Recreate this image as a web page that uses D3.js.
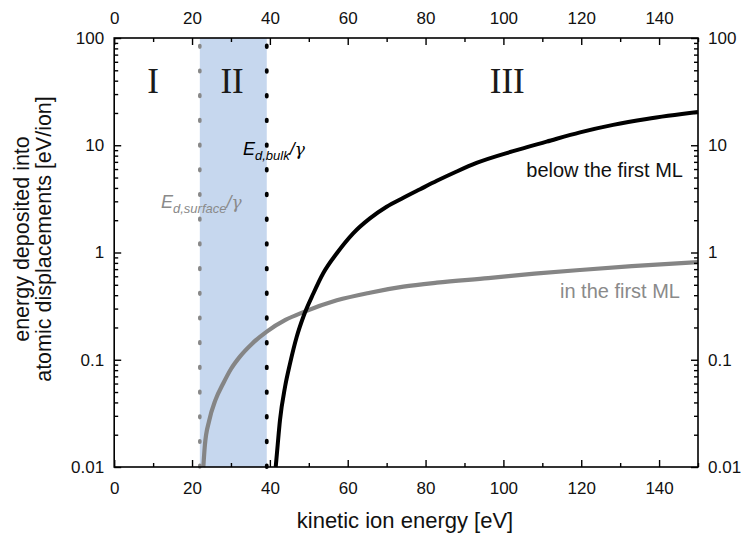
<!DOCTYPE html>
<html>
<head>
<meta charset="utf-8">
<script src="https://cdn.jsdelivr.net/npm/d3@7"></script>
<style>
  html, body { margin: 0; padding: 0; background: #fff; }
  svg { display: block; font-family: Arial, "Liberation Sans", sans-serif; }
</style>
</head>
<body>
<svg id="chart" width="741" height="535"></svg>
<script>
// Energy deposited into atomic displacements vs. kinetic ion energy
const belowEnergy = [41.5, 42.0, 42.6, 43.9, 45.2, 46.9, 48.6, 51.2, 53.7, 57.2, 61.4, 65.7, 70.0, 74.3, 78.6, 82.9, 88.0, 93.1, 102.5, 111.1, 119.7, 128.2, 136.8, 150.0];
const belowValue  = [0.01, 0.016, 0.0274, 0.056, 0.093, 0.164, 0.252, 0.417, 0.64, 0.984, 1.51, 2.08, 2.67, 3.24, 3.89, 4.66, 5.69, 6.84, 8.81, 10.8, 13.2, 15.5, 17.6, 20.4];

const firstEnergy = [22.9, 23.3, 24.4, 26.0, 28.0, 30.0, 32.3, 35.5, 39.2, 44.0, 48.6, 57.2, 65.7, 74.3, 82.9, 96.1, 108.0, 119.7, 133.0, 150.0];
const firstValue  = [0.01, 0.016, 0.027, 0.042, 0.06, 0.082, 0.107, 0.142, 0.183, 0.235, 0.278, 0.358, 0.422, 0.48, 0.523, 0.577, 0.635, 0.687, 0.745, 0.812];

// threshold energies E_d/γ (surface and bulk)
const thresholds = [22.0, 39.2];

const xMajorTicks = [0, 20, 40, 60, 80, 100, 120, 140];
const xMinorTicks = [10, 30, 50, 70, 90, 110, 130, 150];
const yMajorTicks = [0.01, 0.1, 1, 10, 100];
const yTickLabels = ["0.01", "0.1", "1", "10", "100"];
const regionLabels = ["I", "II", "III"];
const regionCenters = [10, 30.3, 101];

const svg = d3.select("#chart");
const pLeft = 114.2, pRight = 698, pTop = 38, pBottom = 467;

const x = d3.scaleLinear().domain([0, 150]).range([pLeft, pRight]);
const y = d3.scaleLog().domain([0.01, 100]).range([pBottom, pTop]);

// minor log ticks (2..9 per decade)
const yMinorTicks = [];
for (let e = -2; e < 2; e++) {
  for (let m = 2; m <= 9; m++) yMinorTicks.push(m * Math.pow(10, e));
}

// shaded region II
svg.append("rect")
  .attr("x", x(thresholds[0]))
  .attr("y", pTop)
  .attr("width", x(thresholds[1]) - x(thresholds[0]))
  .attr("height", pBottom - pTop)
  .attr("fill", "#c6d7ee");

// dotted threshold lines
const dotColors = ["#888888", "#000000"];
thresholds.forEach((t, i) => {
  svg.append("line")
    .attr("x1", x(t)).attr("x2", x(t))
    .attr("y1", pBottom).attr("y2", pTop + 4)
    .attr("stroke", dotColors[i])
    .attr("stroke-width", i === 0 ? 3.6 : 3.8)
    .attr("stroke-linecap", "round")
    .attr("stroke-dasharray", "1.6 23.1");
});

// curves
const line = d3.line()
  .x(d => x(d[0]))
  .y(d => y(d[1]))
  .curve(d3.curveMonotoneX);

svg.append("path")
  .datum(firstEnergy.map((e, i) => [e, firstValue[i]]))
  .attr("d", line)
  .attr("fill", "none")
  .attr("stroke", "#858585")
  .attr("stroke-width", 4.2);

svg.append("path")
  .datum(belowEnergy.map((e, i) => [e, belowValue[i]]))
  .attr("d", line)
  .attr("fill", "none")
  .attr("stroke", "#000")
  .attr("stroke-width", 4);

// axes with inward ticks
function styleAxis(g) {
  g.select(".domain").remove();
  g.selectAll(".tick line").attr("stroke", "#000").attr("stroke-width", 1.4);
  g.selectAll(".tick text").attr("font-size", 17).attr("fill", "#111")
    .attr("font-family", "Arial, 'Liberation Sans', sans-serif");
}

svg.append("g").attr("transform", `translate(0,${pBottom})`)
  .call(d3.axisBottom(x).tickValues(xMajorTicks).tickSize(-7).tickPadding(15).tickFormat(d3.format("d")))
  .call(styleAxis);
svg.append("g").attr("transform", `translate(0,${pBottom})`)
  .call(d3.axisBottom(x).tickValues(xMinorTicks).tickSize(-4).tickFormat(""))
  .call(styleAxis);
svg.append("g").attr("transform", `translate(0,${pTop})`)
  .call(d3.axisTop(x).tickValues(xMajorTicks).tickSize(-7).tickPadding(14).tickFormat(d3.format("d")))
  .call(styleAxis);
svg.append("g").attr("transform", `translate(0,${pTop})`)
  .call(d3.axisTop(x).tickValues(xMinorTicks).tickSize(-4).tickFormat(""))
  .call(styleAxis);

svg.append("g").attr("transform", `translate(${pLeft},0)`)
  .call(d3.axisLeft(y).tickValues(yMajorTicks).tickSize(-7).tickPadding(10)
    .tickFormat((d, i) => yTickLabels[i]))
  .call(styleAxis);
svg.append("g").attr("transform", `translate(${pLeft},0)`)
  .call(d3.axisLeft(y).tickValues(yMinorTicks).tickSize(-4).tickFormat(""))
  .call(styleAxis);
svg.append("g").attr("transform", `translate(${pRight},0)`)
  .call(d3.axisRight(y).tickValues(yMajorTicks).tickSize(-7).tickPadding(10)
    .tickFormat((d, i) => yTickLabels[i]))
  .call(styleAxis);
svg.append("g").attr("transform", `translate(${pRight},0)`)
  .call(d3.axisRight(y).tickValues(yMinorTicks).tickSize(-4).tickFormat(""))
  .call(styleAxis);

// frame
svg.append("rect")
  .attr("x", pLeft).attr("y", pTop)
  .attr("width", pRight - pLeft).attr("height", pBottom - pTop)
  .attr("fill", "none").attr("stroke", "#000").attr("stroke-width", 1.6);

// region labels
regionLabels.forEach((lab, i) => {
  svg.append("text")
    .attr("x", x(regionCenters[i])).attr("y", 93)
    .attr("text-anchor", "middle")
    .attr("font-family", "'Liberation Serif', 'DejaVu Serif', serif")
    .attr("font-size", 35)
    .attr("fill", "#1a1a1a")
    .text(lab);
});

// threshold annotations
function threshold(xPos, yPos, sub, color) {
  const t = svg.append("text")
    .attr("x", xPos).attr("y", yPos)
    .attr("fill", color)
    .attr("font-style", "italic")
    .attr("font-size", 18);
  t.append("tspan").text("E");
  t.append("tspan").attr("font-size", 13).attr("dy", 5).text(sub);
  t.append("tspan").attr("dy", -5).text("/");
  t.append("tspan").attr("font-family", "'DejaVu Serif', serif").attr("font-size", 17).text("γ");
}
threshold(243, 155, "d,bulk", "#000");
threshold(161, 208, "d,surface", "#8a8a8a");

// curve labels
svg.append("text")
  .attr("x", 683).attr("y", 177)
  .attr("text-anchor", "end")
  .attr("font-size", 20).attr("fill", "#111")
  .text("below the first ML");
svg.append("text")
  .attr("x", 680).attr("y", 298)
  .attr("text-anchor", "end")
  .attr("font-size", 20).attr("fill", "#8a8a8a")
  .text("in the first ML");

// axis titles
svg.append("text")
  .attr("x", 405).attr("y", 528)
  .attr("text-anchor", "middle")
  .attr("font-size", 22).attr("fill", "#111")
  .text("kinetic ion energy [eV]");

const yTitle = svg.append("text")
  .attr("transform", "translate(0,239) rotate(-90)")
  .attr("text-anchor", "middle")
  .attr("font-size", 21.5).attr("fill", "#111");
yTitle.append("tspan").attr("x", 0).attr("y", 28.5).text("energy deposited into");
yTitle.append("tspan").attr("x", 0).attr("y", 50.5).text("atomic displacements [eV/ion]");
</script>
</body>
</html>
